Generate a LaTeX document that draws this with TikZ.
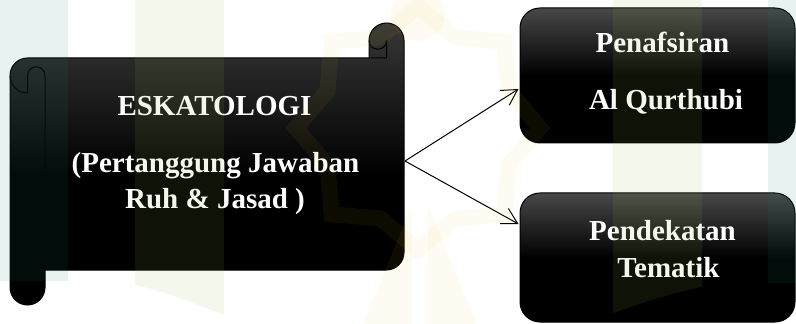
\documentclass[tikz,border=0pt]{standalone}
\usepackage{fontspec}
\setmainfont{Liberation Serif}
\usetikzlibrary{arrows.meta,calc}
\definecolor{wmteal}{RGB}{25,125,108}
\definecolor{wmgreen}{RGB}{150,190,70}
\definecolor{wmyellow}{RGB}{238,197,30}
\definecolor{topgray}{RGB}{55,55,55}
\definecolor{boxgray}{RGB}{72,72,72}
\pgfdeclareverticalshading{scrollshade}{100bp}{color(0bp)=(black); color(25bp)=(black); color(48bp)=(black); color(75bp)=(topgray); color(100bp)=(topgray)}
\pgfdeclareverticalshading{boxshade}{100bp}{color(0bp)=(black); color(25bp)=(black); color(50bp)=(black); color(75bp)=(boxgray); color(100bp)=(boxgray)}
\begin{document}
\begin{tikzpicture}[x=0.75pt,y=0.75pt,
  lbl/.style={text=white, font=\fontsize{21.75}{26}\selectfont\bfseries, anchor=base, inner sep=0pt},
  box/.style={draw=black, line width=0.75pt, rounded corners=15pt, shade, shading=boxshade, minimum width=206.25pt, inner sep=0pt},
  outl/.style={draw=black, line width=0.75pt},
  conn/.style={line width=0.75pt, -{Straight Barb[length=11.5pt,width=13pt]}},
  wm/.style={fill opacity=0.1},
  wmy/.style={fill opacity=0.06}]
\useasboundingbox (0,0) rectangle (796,-324);
% scroll
\path[outl, shade, shading=scrollshade] (369,-58) -- (369,-40.5) arc[start angle=180,end angle=0,radius=17.5]
  -- (404,-252.5) arc[start angle=0,end angle=-90,radius=17.5]
  -- (45,-270) -- (45,-287.5) arc[start angle=0,end angle=-180,radius=17.5]
  -- (10,-75.5) arc[start angle=180,end angle=90,radius=17.5] -- cycle;
\draw[outl] (369,-40.5) arc[start angle=180,end angle=360,radius=8.75] -- (386.5,-58) -- (369,-58);
\draw[outl] (10,-75.5) arc[start angle=180,end angle=270,radius=17.5] -- (27.5,-75.5)
  arc[start angle=180,end angle=0,radius=8.75] -- (45,-270);
\coordinate (s) at (405,-161);
\node[lbl] (t0) at (214.5,-116) {ESKATOLOGI};
\node[lbl] (t1a) at (215.5,-173) {(Pertanggung Jawaban};
\node[lbl] (t1b) at (215,-209) {Ruh \& Jasad )};
% boxes
\node[box, minimum height=101.25pt] (b1) at (657.5,-75.5) {};
\node[box, minimum height=96.75pt] (b2) at (657.5,-257.5) {};
\node[lbl] (p1) at (662.5,-53) {Penafsiran};
\node[lbl] (p2) at (666,-110) {Al Qurthubi};
\node[lbl] (q1) at (662.5,-240) {Pendekatan};
\node[lbl] (q2) at (668.5,-277) {Tematik};
% connectors
\coordinate (e1) at ([shift={(-1,-13.5)}]b1.west);
\coordinate (e2) at ([shift={(-1,33.5)}]b2.west);
\draw[conn] (s) -- (e1);
\draw[conn] (s) -- (e2);
% watermark
\fill[wmteal, wm] (0,0) rectangle (68,-281);
\fill[wmteal, wm] (768,0) rectangle (796,-283);
\fill[wmgreen, wm] (135,0) -- (224,0) -- (224,-315) .. controls (190,-302) and (160,-290) .. (135,-285) -- cycle;
\fill[wmgreen, wm] (613,0) -- (702,0) -- (702,-287) .. controls (675,-292) and (645,-302) .. (613,-313) -- cycle;
\draw[wmyellow, line width=12pt, draw opacity=0.06, line join=miter, shift={(418,-128)}]
  (90:122) \foreach \k in {1,...,15} { -- ({90+\k*22.5}:{ifthenelse(isodd(\k),98,122)}) } -- cycle;
\fill[wmyellow, wmy] (418,-14) circle[radius=27];
\fill[wmyellow, wmy] (363,-324) -- (412,-205) -- (412,-324) -- cycle;
\fill[wmyellow, wmy] (428,-205) -- (477,-324) -- (428,-324) -- cycle;
\end{tikzpicture}
\end{document}
